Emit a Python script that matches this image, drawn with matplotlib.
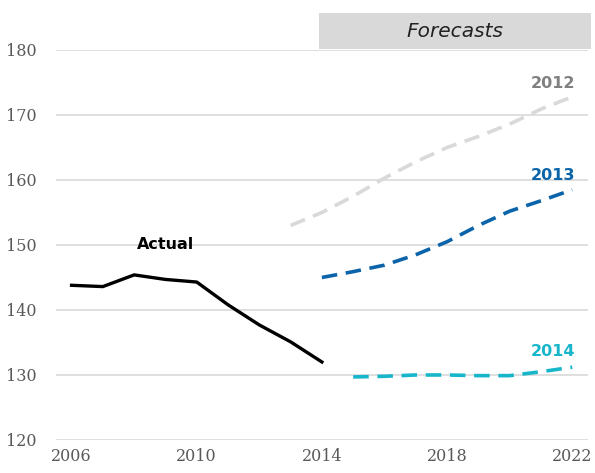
import numpy as np
import matplotlib
matplotlib.use("Agg")
import matplotlib.pyplot as plt
from matplotlib.patches import Rectangle

# actual series
years_actual = [2006, 2007, 2008, 2009, 2010, 2011, 2012, 2013, 2014]
actual = [143.8, 143.6, 145.4, 144.7, 144.3, 140.8, 137.7, 135.1, 132.0]

# forecasts made in 2012, 2013, 2014
years_f2012 = [2013, 2014, 2015, 2016, 2017, 2018, 2019, 2020, 2021, 2022]
f2012 = [153.0, 155.0, 157.5, 160.3, 162.8, 165.0, 166.7, 168.6, 170.9, 172.8]
years_f2013 = [2014, 2015, 2016, 2017, 2018, 2019, 2020, 2021, 2022]
f2013 = [145.0, 145.9, 146.9, 148.5, 150.5, 153.0, 155.2, 156.8, 158.5]
years_f2014 = [2015, 2016, 2017, 2018, 2019, 2020, 2021, 2022]
f2014 = [129.7, 129.8, 130.0, 130.0, 129.9, 129.9, 130.5, 131.2]

xticks = [2006, 2010, 2014, 2018, 2022]
yticks = [120, 130, 140, 150, 160, 170, 180]

fig = plt.figure(figsize=(5.95, 4.73), dpi=100)
ax = fig.add_axes([0.094, 0.0698, 0.894, 0.8245])

for y in yticks:
    ax.axhline(y, color="#d9d9d9", lw=1.2, zorder=0)

dash = (4.3, 2.4)
ax.plot(years_actual, actual, color="black", lw=2.4, solid_joinstyle="round")
ax.plot(years_f2012, f2012, color="#d9d9d9", lw=2.6, dashes=dash)
ax.plot(years_f2013, f2013, color="#0b64a9", lw=2.6, dashes=dash)
ax.plot(years_f2014, f2014, color="#17b6cb", lw=2.6, dashes=dash)

ax.set_xlim(2005.5, 2022.5)
ax.set_ylim(120, 180)
ax.set_xticks(xticks)
ax.set_yticks(yticks)
ax.tick_params(length=0, labelsize=11.5, labelcolor="#595959", pad=6)
for lab in ax.get_xticklabels() + ax.get_yticklabels():
    lab.set_family("DejaVu Serif")
ax.tick_params(axis="y", pad=14)
for s in ax.spines.values():
    s.set_visible(False)

# forecasts banner
ax.add_patch(Rectangle((2013.9, 180.1), 8.7, 5.6, facecolor="#d9d9d9",
                       edgecolor="none", clip_on=False))
ax.text(2018.25, 182.9, "Forecasts", style="italic", fontsize=14.5,
        color="#222222", ha="center", va="center")

ax.text(2009.0, 150.1, "Actual", fontweight="bold", fontsize=11.5,
        ha="center", va="center", color="black")
ax.text(2022.1, 174.9, "2012", fontweight="bold", fontsize=11.5,
        ha="right", va="center", color="#808080")
ax.text(2022.1, 160.7, "2013", fontweight="bold", fontsize=11.5,
        ha="right", va="center", color="#0b64a9")
ax.text(2022.1, 133.6, "2014", fontweight="bold", fontsize=11.5,
        ha="right", va="center", color="#17b6cb")

fig.savefig("out.png", dpi=100)
